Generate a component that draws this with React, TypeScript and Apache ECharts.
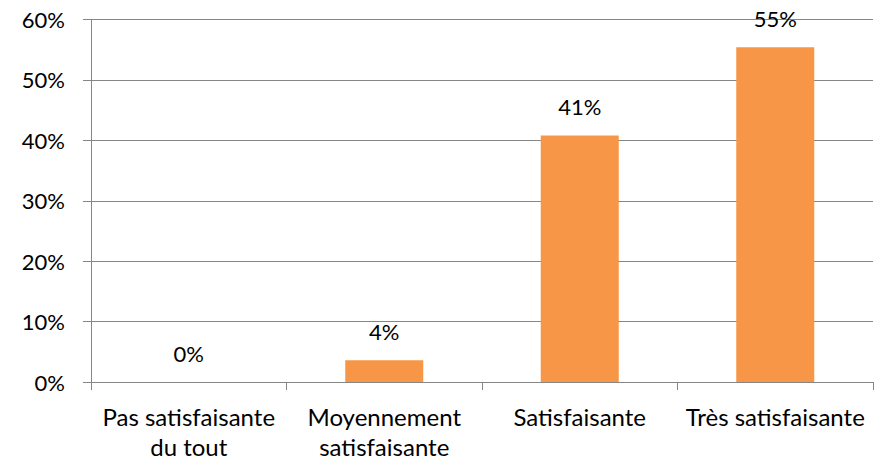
import React, { useEffect, useRef } from "react";
import * as echarts from "echarts";

const categories = ["Pas satisfaisante\ndu tout", "Moyennement\nsatisfaisante", "Satisfaisante", "Très satisfaisante"];
const values = [0, 3.6, 40.8, 55.4];
const valueLabels = ["0%", "4%", "41%", "55%"];

const FONT = "Lato, 'Open Sans', sans-serif";

export default function App() {
  const ref = useRef<HTMLDivElement>(null);
  useEffect(() => {
    if (!ref.current) return;
    const chart = echarts.init(ref.current, undefined, { renderer: "svg" });
    chart.setOption({
      animation: false,
      grid: { left: 91, right: 12, top: 19.5, bottom: 79, containLabel: false },
      xAxis: {
        type: "category",
        data: categories,
        axisLine: { show: true, lineStyle: { color: "#868686", width: 1 } },
        axisTick: { show: true, alignWithLabel: false, length: 8, lineStyle: { color: "#868686" } },
        axisLabel: {
          color: "#000",
          fontFamily: FONT,
          fontSize: 24,
          lineHeight: 30,
          margin: 19,
          interval: 0,
        },
      },
      yAxis: {
        type: "value",
        min: 0,
        max: 60,
        interval: 10,
        axisLine: { show: true, lineStyle: { color: "#868686", width: 1 } },
        axisTick: { show: true, length: 8, lineStyle: { color: "#868686" } },
        splitLine: { show: true, lineStyle: { color: "#868686", width: 1 } },
        axisLabel: {
          color: "#000",
          fontFamily: FONT,
          fontSize: 22,
          margin: 26,
          formatter: (v: number) => `${v}%`,
        },
      },
      series: [
        {
          type: "bar",
          data: values,
          barWidth: 78,
          itemStyle: { color: "#F79646" },
          label: {
            show: true,
            position: "top",
            distance: 18,
            color: "#000",
            fontFamily: FONT,
            fontSize: 22,
            formatter: (p: any) => valueLabels[p.dataIndex],
          },
        },
      ],
    });
    return () => chart.dispose();
  }, []);
  return (
    <div
      ref={ref}
      style={{ position: "fixed", left: 0, top: 0, width: 885, height: 461, background: "#fff" }}
    />
  );
}
